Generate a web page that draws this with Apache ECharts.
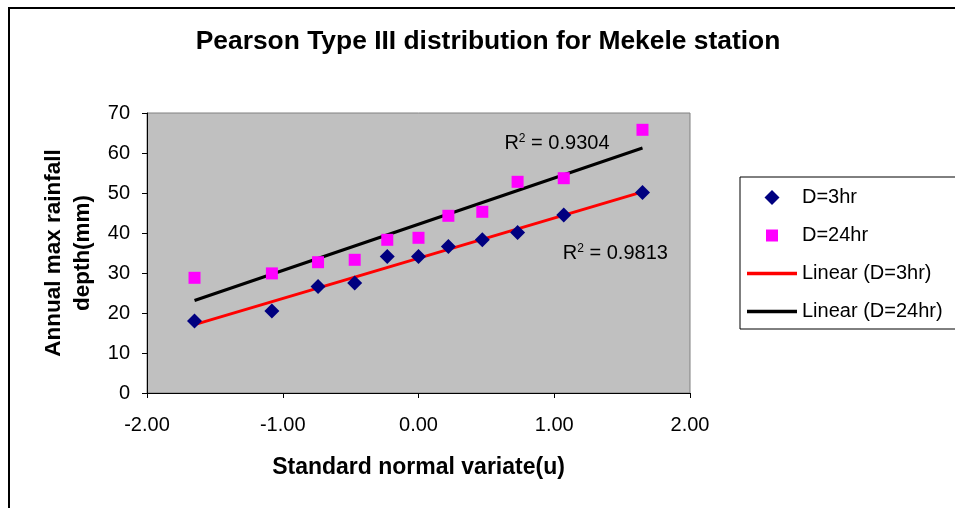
<!DOCTYPE html>
<html>
<head>
<meta charset="utf-8">
<script src="https://cdn.jsdelivr.net/npm/echarts@6/dist/echarts.min.js"></script>
<style>html,body{margin:0;padding:0;background:#fff;}#c{width:955px;height:508px;}</style>
</head>
<body>
<div id="c"></div>
<script>
// Standard normal variate (u)
var u = [-1.65, -1.08, -0.74, -0.47, -0.23, 0.00, 0.22, 0.47, 0.73, 1.07, 1.65];
// Annual max rainfall depth (mm)
var d3hr  = [18.0, 20.5, 26.6, 27.5, 34.1, 34.1, 36.6, 38.3, 40.1, 44.5, 50.1];
var d24hr = [28.8, 29.9, 32.7, 33.3, 38.3, 38.8, 44.3, 45.3, 52.8, 53.7, 65.8];
var r2_3hr = '0.9813';
var r2_24hr = '0.9304';
var xTicks = { min: -2, max: 2, interval: 1 };
var yTicks = { min: 0, max: 70, interval: 10 };

function pairs(xs, ys) { return xs.map(function (x, i) { return [x, ys[i]]; }); }
function linfit(xs, ys) {
  var n = xs.length, sx = 0, sy = 0, sxx = 0, sxy = 0;
  for (var i = 0; i < n; i++) { sx += xs[i]; sy += ys[i]; sxx += xs[i] * xs[i]; sxy += xs[i] * ys[i]; }
  var b = (n * sxy - sx * sy) / (n * sxx - sx * sx);
  var a = (sy - b * sx) / n;
  var x0 = Math.min.apply(null, xs), x1 = Math.max.apply(null, xs);
  return [[x0, a + b * x0], [x1, a + b * x1]];
}

var FONT = '"Liberation Sans", Arial, sans-serif';
var chart = echarts.init(document.getElementById('c'), null, { renderer: 'canvas' });

function r2Label(val) {
  return {
    show: true, position: 'inside',
    formatter: 'R{sup|2} = ' + val,
    fontFamily: FONT, fontSize: 20, color: '#000',
    rich: { sup: { fontFamily: FONT, fontSize: 12, color: '#000', padding: [0, 0, 9, 0] } }
  };
}

chart.setOption({
  animation: false,
  textStyle: { fontFamily: FONT },
  title: {
    text: 'Pearson Type III distribution for Mekele station',
    left: 483, top: 24, textAlign: 'center',
    textStyle: { fontFamily: FONT, fontSize: 26.4, fontWeight: 'bold', color: '#000' }
  },
  graphic: [{
    type: 'rect', shape: { x: 9, y: 8, width: 1000, height: 600 },
    style: { fill: 'none', stroke: '#000', lineWidth: 2 }, silent: true, z: -1
  }],
  grid: {
    left: 147, right: 265, top: 113, bottom: 115,
    show: true, backgroundColor: '#C0C0C0', borderColor: '#808080', borderWidth: 1
  },
  legend: {
    orient: 'vertical', left: 740, top: 177,
    padding: [10, 20, 7, 7], itemGap: 17,
    itemWidth: 50, itemHeight: 15, symbolKeepAspect: true,
    borderColor: '#000', borderWidth: 1, backgroundColor: '#fff',
    textStyle: { fontFamily: FONT, fontSize: 20, color: '#000', lineHeight: 21 },
    data: [
      { name: 'D=3hr', icon: 'path://M5,0 L10,5 L5,10 L0,5 Z' },
      { name: 'D=24hr', icon: 'path://M0,0 M15,15 M1.5,1.5 L13.5,1.5 L13.5,13.5 L1.5,13.5 Z' },
      { name: 'Linear (D=3hr)', icon: 'path://M0,0 L50,0 L50,3.5 L0,3.5 Z' },
      { name: 'Linear (D=24hr)', icon: 'path://M0,0 L50,0 L50,3.5 L0,3.5 Z' }
    ]
  },
  xAxis: {
    type: 'value', min: xTicks.min, max: xTicks.max, interval: xTicks.interval,
    name: 'Standard normal variate(u)', nameLocation: 'middle', nameGap: 63,
    nameTextStyle: { fontFamily: FONT, fontSize: 23, fontWeight: 'bold', color: '#000' },
    axisLine: { onZero: false, lineStyle: { color: '#000', width: 1 } },
    axisTick: { show: true, inside: false, length: 5, lineStyle: { color: '#000' } },
    axisLabel: { margin: 22, fontFamily: FONT, fontSize: 20, color: '#000',
      formatter: function (v) { return v.toFixed(2); } },
    splitLine: { show: false }
  },
  yAxis: {
    type: 'value', min: yTicks.min, max: yTicks.max, interval: yTicks.interval,
    name: 'Annual max rainfall\ndepth(mm)', nameLocation: 'middle', nameGap: 50,
    nameTextStyle: { fontFamily: FONT, fontSize: 22.5, fontWeight: 'bold', color: '#000', lineHeight: 29 },
    axisLine: { show: true, onZero: false, lineStyle: { color: '#000', width: 1 } },
    axisTick: { show: true, inside: false, length: 5, lineStyle: { color: '#000' } },
    axisLabel: { margin: 17, fontFamily: FONT, fontSize: 20, color: '#000' },
    splitLine: { show: false }
  },
  series: [
    {
      name: 'Linear (D=3hr)', type: 'line', data: linfit(u, d3hr), symbol: 'none',
      lineStyle: { color: '#FF0000', width: 3 }, itemStyle: { color: '#FF0000' }, z: 2,
      markPoint: {
        symbol: 'circle', symbolSize: 1, itemStyle: { color: 'rgba(0,0,0,0)' },
        label: r2Label(r2_3hr),
        data: [{ coord: [1.45, 35] }]
      }
    },
    {
      name: 'Linear (D=24hr)', type: 'line', data: linfit(u, d24hr), symbol: 'none',
      lineStyle: { color: '#000000', width: 3 }, itemStyle: { color: '#000000' }, z: 2,
      markPoint: {
        symbol: 'circle', symbolSize: 1, itemStyle: { color: 'rgba(0,0,0,0)' },
        label: r2Label(r2_24hr),
        data: [{ coord: [1.02, 62.5] }]
      }
    },
    {
      name: 'D=3hr', type: 'scatter', data: pairs(u, d3hr), symbol: 'diamond', symbolSize: [15, 15],
      itemStyle: { color: '#000080', opacity: 1 }, z: 3
    },
    {
      name: 'D=24hr', type: 'scatter', data: pairs(u, d24hr), symbol: 'rect', symbolSize: 12,
      itemStyle: { color: '#FF00FF', opacity: 1 }, z: 3
    }
  ]
});
</script>
</body>
</html>
